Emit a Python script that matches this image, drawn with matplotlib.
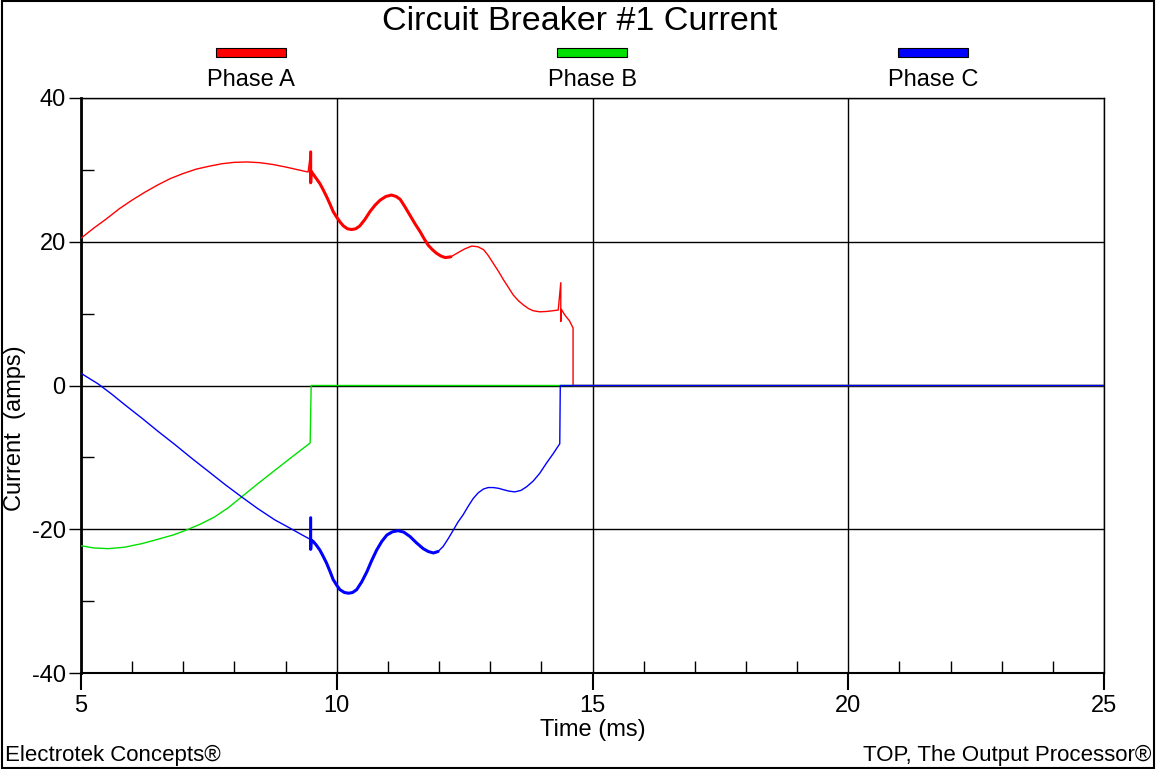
import numpy as np
import matplotlib
matplotlib.use("Agg")
import matplotlib.pyplot as plt
from matplotlib.patches import Rectangle

plt.rcParams['font.family'] = ['Liberation Sans', 'DejaVu Sans']
plt.rcParams['axes.unicode_minus'] = False

# values (time in ms, current in amps)
t_a = [5.0, 5.25, 5.5, 5.75, 6.0, 6.25, 6.5, 6.75, 7.0, 7.25, 7.5, 7.75, 8.0, 8.25,
       8.5, 8.75, 9.0, 9.25, 9.44, 9.49, 9.49, 9.50,
       9.54, 9.60, 9.67, 9.73, 9.80, 9.87, 9.93, 10.0, 10.07, 10.13, 10.21, 10.29,
       10.37, 10.45, 10.55, 10.65, 10.75, 10.85, 10.96, 11.07, 11.16, 11.24, 11.33,
       11.43, 11.53, 11.63, 11.71, 11.79, 11.87, 11.95, 12.04, 12.12, 12.23, 12.35,
       12.50, 12.64, 12.76, 12.87, 12.96, 13.06, 13.16, 13.26, 13.36, 13.45, 13.55,
       13.65, 13.75, 13.84, 13.97, 14.10, 14.22, 14.33, 14.38, 14.38, 14.39, 14.46,
       14.55, 14.62, 14.62, 25.0]
i_a = [20.5, 21.9, 23.2, 24.6, 25.8, 26.9, 27.9, 28.8, 29.5, 30.1, 30.5, 30.85, 31.05, 31.1,
       31.0, 30.75, 30.4, 30.0, 29.7, 32.5, 28.2, 29.8,
       29.4, 28.8, 28.1, 27.3, 26.3, 25.2, 24.2, 23.4, 22.7, 22.2, 21.8, 21.7,
       21.8, 22.2, 23.1, 24.2, 25.1, 25.8, 26.3, 26.5, 26.3, 25.9, 24.9,
       23.7, 22.5, 21.4, 20.4, 19.5, 18.9, 18.4, 18.0, 17.8, 17.9, 18.4,
       19.0, 19.4, 19.3, 18.9, 18.1, 17.0, 15.9, 14.7, 13.6, 12.6, 11.8,
       11.2, 10.7, 10.4, 10.25, 10.3, 10.4, 10.5, 14.3, 8.9, 10.6, 9.8,
       9.0, 8.0, 0.0, 0.0]

t_b = [5.0, 5.25, 5.53, 5.85, 6.19, 6.5, 6.8, 7.03, 7.33, 7.61, 7.88, 8.14, 8.45,
       8.79, 9.15, 9.48, 9.50, 25.0]
i_b = [-22.3, -22.6, -22.7, -22.5, -22.0, -21.4, -20.8, -20.2, -19.3, -18.3, -17.0,
       -15.5, -13.7, -11.8, -9.8, -8.0, 0.0, 0.0]

t_c = [5.0, 5.34, 5.6, 5.86, 6.2, 6.51, 6.85, 7.16, 7.5, 7.82, 8.14, 8.45, 8.79, 9.1,
       9.3, 9.48, 9.49, 9.49, 9.50,
       9.54, 9.60, 9.67, 9.73, 9.80, 9.87, 9.93, 10.0, 10.06, 10.15, 10.23, 10.31,
       10.39, 10.49, 10.59, 10.68, 10.78, 10.88, 10.98, 11.09, 11.20, 11.31, 11.43,
       11.56, 11.69, 11.79, 11.89, 11.98, 12.08, 12.18, 12.28, 12.37, 12.47, 12.57,
       12.67, 12.77, 12.87, 12.96, 13.06, 13.16, 13.26, 13.37, 13.48, 13.60, 13.71,
       13.84, 13.97, 14.10, 14.23, 14.36, 14.37, 25.0]
i_c = [1.7, 0.2, -1.2, -2.7, -4.6, -6.4, -8.3, -10.1, -12.0, -13.8, -15.5, -17.1, -18.7,
       -19.9, -20.7, -21.4, -18.4, -22.8, -21.5,
       -21.7, -22.2, -22.9, -23.7, -24.7, -25.9, -27.0, -27.8, -28.4, -28.8, -28.9, -28.8,
       -28.4, -27.3, -25.9, -24.4, -22.9, -21.7, -20.8, -20.35, -20.2, -20.4, -21.0,
       -21.9, -22.7, -23.1, -23.3, -23.1, -22.4, -21.3, -20.1, -19.0, -18.0, -16.8,
       -15.7, -14.9, -14.4, -14.2, -14.2, -14.3, -14.5, -14.7, -14.8, -14.6, -14.1,
       -13.3, -12.2, -10.8, -9.5, -8.1, 0.0, 0.0]

phases = ["Phase A", "Phase B", "Phase C"]
colors = ["#ff0000", "#00e000", "#0000ff"]

fig = plt.figure(figsize=(11.56, 7.69), dpi=100)
ax = fig.add_axes([81/1156, 1-673/769, (1104-81)/1156, (673-98)/769])

# draw traces, with the ringing portion a bit heavier
for t, i, c, heavy_end in [(t_a, i_a, colors[0], 12.3), (t_b, i_b, colors[1], None),
                           (t_c, i_c, colors[2], 12.0)]:
    t = np.array(t); i = np.array(i)
    ax.plot(t, i, color=c, lw=1.0, zorder=3)
    if heavy_end:
        m = (t >= 9.49) & (t <= heavy_end)
        ax.plot(t[m], i[m], color=c, lw=2.2, zorder=3, solid_capstyle='round',
                solid_joinstyle='round')

ax.set_xlim(5, 25)
ax.set_ylim(-40, 40)
ax.set_xticks([5, 10, 15, 20, 25])
ax.set_yticks([-40, -20, 0, 20, 40])
ax.set_xticks(np.arange(6, 25, 1), minor=True)
ax.set_yticks([-30, -10, 10, 30], minor=True)
ax.grid(True, which='major', color='black', lw=1.0)
ax.tick_params(axis='x', which='major', direction='out', length=12, width=1.5,
               labelsize=17, pad=4)
ax.tick_params(axis='y', which='major', direction='out', length=9, width=1.0,
               labelsize=17, pad=2)
ax.tick_params(which='minor', direction='in', length=9, width=1.0)
for s in ax.spines.values():
    s.set_linewidth(1.0)
ax.spines['left'].set_linewidth(2.0)
ax.spines['bottom'].set_linewidth(1.5)

fig.text(593/1156, 1-730/769, "Time (ms)", fontsize=17, ha='center', va='center')
fig.text(15/1156, 1-428/769, "Current  (amps)", fontsize=17, ha='center', va='center',
         rotation=90)

fig.text(580/1156, 1-21/769, "Circuit Breaker #1 Current", fontsize=24.5,
         ha='center', va='center')

# legend bars across the top
for name, c, cx in zip(phases, colors, [251, 592, 933]):
    fig.patches.append(Rectangle(((cx-35)/1156, 1-56.5/769), 70/1156, 8.5/769,
                                 transform=fig.transFigure, facecolor=c,
                                 edgecolor='black', lw=0.8))
    fig.text(cx/1156, 1-80/769, name, fontsize=17, ha='center', va='center')

fig.text(5/1156, 1-755/769, "Electrotek Concepts®", fontsize=16, ha='left', va='center')
fig.text(1151/1156, 1-755/769, "TOP, The Output Processor®", fontsize=16,
         ha='right', va='center')

# outer frame
fig.patches.append(Rectangle((2/1156, 1/769), 1152/1156, 767/769,
                             transform=fig.transFigure, fill=False,
                             edgecolor='black', lw=1.5))

fig.savefig("out.png", dpi=100)
